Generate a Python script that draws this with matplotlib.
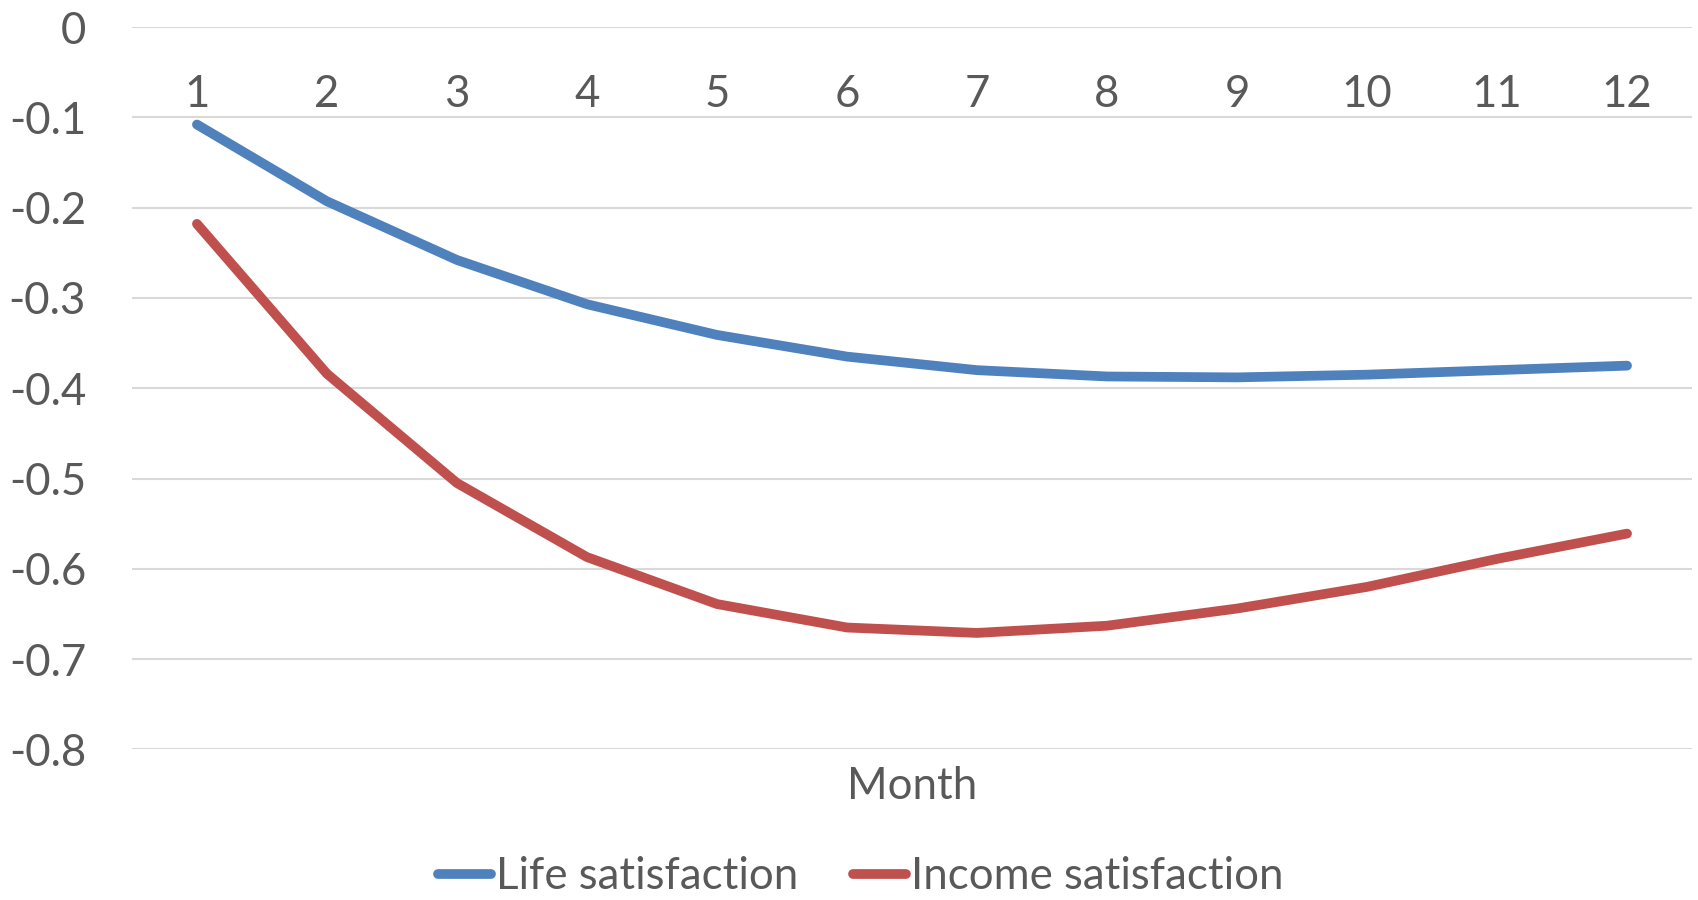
import matplotlib
matplotlib.use("Agg")
import matplotlib.pyplot as plt

# Monthly satisfaction effects
months = ["1", "2", "3", "4", "5", "6", "7", "8", "9", "10", "11", "12"]
life_satisfaction = [-0.108, -0.193, -0.258, -0.307, -0.341, -0.365,
                     -0.380, -0.387, -0.388, -0.385, -0.380, -0.375]
income_satisfaction = [-0.218, -0.384, -0.505, -0.587, -0.639, -0.665,
                       -0.671, -0.663, -0.644, -0.620, -0.589, -0.561]
y_ticks = [0, -0.1, -0.2, -0.3, -0.4, -0.5, -0.6, -0.7, -0.8]
y_tick_labels = ["0", "-0.1", "-0.2", "-0.3", "-0.4", "-0.5", "-0.6", "-0.7", "-0.8"]

TEXT = "#595959"
BLUE = "#4F81BD"
RED = "#C0504D"
GRID = "#D9D9D9"
FS = 31.5

plt.rcParams["font.family"] = ["Lato", "DejaVu Sans"]

fig = plt.figure(figsize=(16.98, 9.0), dpi=100)
ax = fig.add_axes([0.0777, 0.1673, 0.9188, 0.8027])

x = list(range(len(months)))
ax.plot(x, life_satisfaction, color=BLUE, lw=7.0, solid_capstyle="round",
        solid_joinstyle="round", label="Life satisfaction", zorder=3)
ax.plot(x, income_satisfaction, color=RED, lw=7.0, solid_capstyle="round",
        solid_joinstyle="round", label="Income satisfaction", zorder=3)

ax.set_xlim(-0.5, len(months) - 0.5)
ax.set_ylim(-0.8, 0)

ax.set_yticks(y_ticks)
ax.set_yticklabels(y_tick_labels)
ax.set_xticks(x)
ax.set_xticklabels(months)

# Category axis sits on the zero line, labels hang below it
ax.spines["bottom"].set_position(("data", 0))
for side in ["top", "right", "left", "bottom"]:
    ax.spines[side].set_visible(False)

ax.tick_params(axis="both", length=0, labelsize=FS, labelcolor=TEXT)
ax.tick_params(axis="y", pad=33)
ax.tick_params(axis="x", pad=34)

ax.yaxis.grid(True, color=GRID, lw=1.5, zorder=0)
ax.set_axisbelow(True)

ax.set_xlabel("Month", fontsize=FS, color=TEXT, va="center")
ax.xaxis.set_label_coords(0.5, -0.052)

leg = fig.legend(loc="center", bbox_to_anchor=(0.507, 0.026), ncol=2, frameon=False,
                 fontsize=FS, labelcolor=TEXT, handlelength=1.2, handletextpad=0.12,
                 columnspacing=1.25, borderpad=0.1)
for line in leg.get_lines():
    line.set_solid_capstyle("round")

fig.savefig("out.png", dpi=100, facecolor="white")
